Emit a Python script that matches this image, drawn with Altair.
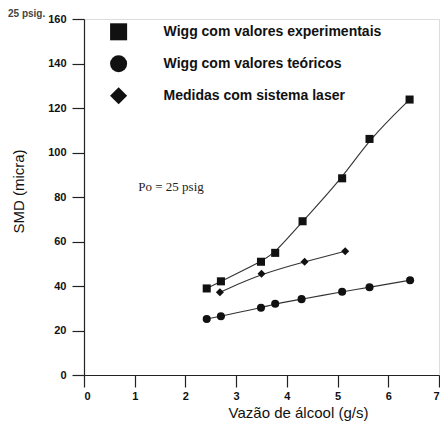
import altair as alt
import pandas as pd

series_names = ["Wigg com valores experimentais", "Wigg com valores teóricos", "Medidas com sistema laser"]

exp_x = [2.42, 2.70, 3.49, 3.77, 4.31, 5.09, 5.63, 6.42]
exp_y = [38.9, 42.1, 50.9, 54.9, 69.1, 88.4, 106.1, 123.8]

teo_x = [2.42, 2.70, 3.49, 3.77, 4.29, 5.09, 5.63, 6.43]
teo_y = [25.2, 26.4, 30.2, 32.0, 34.1, 37.4, 39.4, 42.6]

las_x = [2.68, 3.50, 4.35, 5.15]
las_y = [37.2, 45.5, 50.9, 55.6]

x_ticks = [0, 1, 2, 3, 4, 5, 6, 7]
y_ticks = [0, 20, 40, 60, 80, 100, 120, 140, 160]

note_text = ["Po = 25 psig"]
note_x = [1.07]
note_y = [84.5]

rows = []
for name, xs, ys in zip(series_names, [exp_x, teo_x, las_x], [exp_y, teo_y, las_y]):
    for a, b in zip(xs, ys):
        rows.append({"series": name, "x": a, "y": b})
df = pd.DataFrame(rows)
notes = pd.DataFrame({"t": note_text, "x": note_x, "y": note_y})

xs = alt.Scale(domain=[0, 7], nice=False, zero=True)
ys = alt.Scale(domain=[0, 160], nice=False, zero=True)

x_enc = alt.X("x:Q", scale=xs, axis=alt.Axis(
    values=x_ticks, title="Vazão de álcool (g/s)", grid=False,
    tickSize=12, labelPadding=3, labelFontSize=11, labelFontWeight="bold",
    labelFont="Liberation Sans", labelColor="#111",
    titleFont="Liberation Sans", titleFontSize=15, titleFontWeight="normal",
    titleColor="#111", titleX=214, titleY=42, titleAnchor="middle",
    titleBaseline="alphabetic",
    domainColor="#222", tickColor="#222", domainWidth=1.2, tickWidth=1.2))
y_enc = alt.Y("y:Q", scale=ys, axis=alt.Axis(
    values=y_ticks, title="SMD (micra)", grid=False,
    tickSize=12, labelPadding=6, labelFontSize=11, labelFontWeight="bold",
    labelFont="Liberation Sans", labelColor="#111",
    titleFont="Liberation Sans", titleFontSize=15, titleFontWeight="normal",
    titleColor="#111", titleX=-58, titleY=172, titleAngle=-90,
    titleBaseline="bottom", titleAnchor="middle",
    domainColor="#222", tickColor="#222", domainWidth=1.2, tickWidth=1.2))

base = alt.Chart(df)

lines = base.mark_line(interpolate="basis", color="#333", strokeWidth=1.1).encode(
    x=x_enc, y=y_enc, detail="series:N")

points = base.mark_point(filled=True, color="#111", opacity=1, size=65).encode(
    x=x_enc, y=y_enc,
    shape=alt.Shape("series:N",
                    scale=alt.Scale(domain=series_names, range=["square", "circle", "diamond"]),
                    sort=series_names,
                    legend=alt.Legend(title=None, orient="none", legendX=25.6, legendY=3.8,
                                      symbolSize=290, symbolFillColor="#111",
                                      symbolStrokeWidth=0, rowPadding=14,
                                      labelOffset=36, labelFont="Liberation Sans",
                                      labelFontSize=14, labelFontWeight="bold",
                                      labelColor="#111", labelLimit=400, padding=0)),
)

note = alt.Chart(notes).mark_text(align="left", baseline="middle", font="Liberation Serif",
                                   fontSize=13, color="#222").encode(
    x=alt.X("x:Q", scale=xs), y=alt.Y("y:Q", scale=ys), text="t:N")

chart = alt.layer(lines, points, note).properties(
    width=355, height=356,
    autosize=alt.AutoSizeParams(type="none"),
    padding={"left": 76, "top": 11, "right": 1, "bottom": 46},
    title=alt.TitleParams("25 psig.", anchor="start", frame="group", dx=-76, dy=6, offset=0,
                          baseline="top",
                          font="Liberation Sans", fontSize=10, fontWeight="bold", color="#444"),
).configure_view(stroke=None).configure(background="white")

chart.save("out.html", embed_options={"renderer": "svg", "actions": False})
